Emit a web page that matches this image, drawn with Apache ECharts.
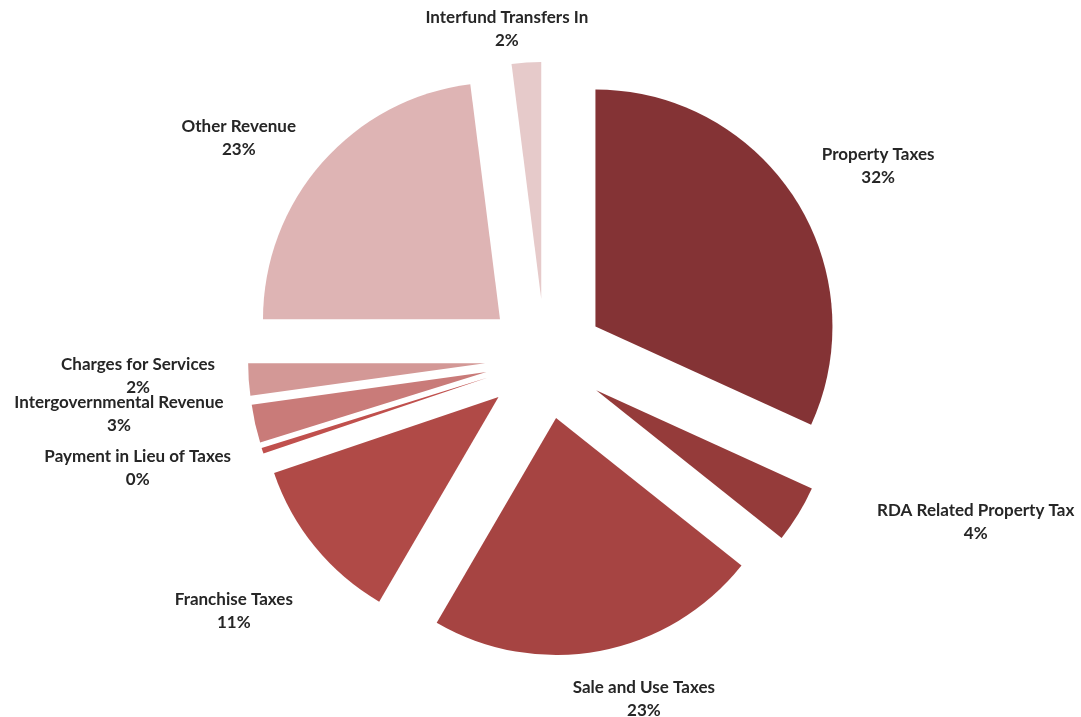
<!DOCTYPE html>
<html>
<head>
<meta charset="utf-8">
<title>Revenue Sources</title>
<script src="https://cdn.jsdelivr.net/npm/echarts@6/dist/echarts.min.js"></script>
<style>
  html, body { margin: 0; padding: 0; background: #ffffff; }
  #chart { width: 1081px; height: 717px; }
</style>
</head>
<body>
<div id="chart"></div>
<script>
// Revenue categories, in clockwise order from 12 o'clock
const categories = [
  'Property Taxes',
  'RDA Related Property Tax',
  'Sale and Use Taxes',
  'Franchise Taxes',
  'Payment in Lieu of Taxes',
  'Intergovernmental Revenue',
  'Charges for Services',
  'Other Revenue',
  'Interfund Transfers In'
];

// Share of total revenue (percent)
const values = [31.8, 3.9, 22.7, 11.4, 0.4, 2.6, 2.2, 23.0, 2.0];

// Slice fills
const colors = [
  '#843335', '#953b3a', '#a64442', '#b04a47', '#c0504d',
  '#c97b79', '#d39896', '#deb4b4', '#e6caca'
];

// Fine adjustment of each label after the automatic placement (px)
const labelNudge = [
  [4, 1], [61, -24], [24, 7], [-6, 26], [0, -2],
  [3, -23], [4, -8], [-12, 16], [-12, 0]
];

const W = 1081, H = 717;
const CX = 545, CY = 359, R = 237;
const EXPLODE = 60;   // distance each slice is pulled out from the centre
const GAP = 38;       // space between a slice's arc and its label

const total = values.reduce((s, v) => s + v, 0);
const midAngles = [];
(function () {
  let acc = 0;
  values.forEach(v => {
    midAngles.push((acc + v / 2) / total * Math.PI * 2);
    acc += v;
  });
})();

const labelStyle = {
  show: true,
  position: 'outside',
  formatter: p => p.name + '\n' + Math.round(p.percent) + '%',
  fontFamily: 'Lato, "Open Sans", sans-serif',
  fontWeight: 'bold',
  fontSize: 17,
  lineHeight: 23,
  color: '#262626',
  align: 'center'
};

// Place each label just beyond its exploded slice, along the slice bisector
function placeLabel(params) {
  const i = params.dataIndex;
  const a = midAngles[i];
  const dx = Math.sin(a), dy = -Math.cos(a);
  const w = params.labelRect.width, h = params.labelRect.height;
  const d = EXPLODE + R + GAP;
  let x = CX + dx * d + dx * w / 2;
  let y = CY + dy * d + dy * h / 2;
  x = Math.min(Math.max(x, w / 2 + 2), W - w / 2 - 2);
  y = Math.min(Math.max(y, h / 2 + 6), H - h / 2 - 2);
  return {
    x: x + labelNudge[i][0],
    y: y + labelNudge[i][1],
    align: 'center',
    verticalAlign: 'middle'
  };
}

const chart = echarts.init(document.getElementById('chart'), null, { renderer: 'canvas' });

const common = {
  type: 'pie',
  center: [CX, CY],
  radius: [0, R],
  startAngle: 90,
  clockwise: true,
  avoidLabelOverlap: false,
  emphasis: { disabled: true }
};

chart.setOption({
  animation: false,
  backgroundColor: '#ffffff',
  series: [
    // exploded slices
    Object.assign({}, common, {
      selectedMode: 'multiple',
      selectedOffset: EXPLODE,
      label: { show: false },
      labelLine: { show: false },
      data: categories.map((name, i) => ({
        name: name,
        value: values[i],
        selected: true,
        itemStyle: { color: colors[i] }
      }))
    }),
    // category / percentage labels
    Object.assign({}, common, {
      silent: true,
      z: 3,
      selectedMode: false,
      label: labelStyle,
      labelLine: { show: false },
      labelLayout: placeLabel,
      itemStyle: { color: 'rgba(0,0,0,0)' },
      data: categories.map((name, i) => ({ name: name, value: values[i] }))
    })
  ]
});
</script>
</body>
</html>
